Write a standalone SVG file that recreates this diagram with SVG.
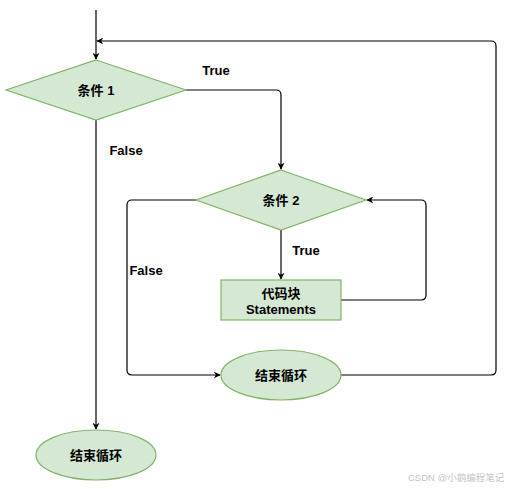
<svg xmlns="http://www.w3.org/2000/svg" width="508" height="489" viewBox="0 0 508 489">
<defs>
<marker id="arr" viewBox="0 0 10 10" refX="9" refY="5" markerWidth="7" markerHeight="7" orient="auto" markerUnits="userSpaceOnUse">
<path d="M0,0 L10,5 L0,10 L3,5 Z" fill="#000"/>
</marker>
<style>
.n{fill:#d5e8d4;stroke:#82b366;stroke-width:1.2}
.t{font-family:"Liberation Sans","Noto Sans CJK SC",sans-serif;font-size:13px;font-weight:bold;fill:#000;text-anchor:middle;dominant-baseline:central}
.c{fill:none;stroke:#000;stroke-width:1.2}
.w{font-family:"Liberation Sans","Noto Sans CJK SC",sans-serif;font-size:9.5px;fill:#c4c4c4}
</style>
</defs>
<rect width="508" height="489" fill="#fff"/>
<g id="connectors">
<path class="c" d="M96,10 V59" marker-end="url(#arr)"/>
<path class="c" d="M186,90 H276 Q281,90 281,95 V169" marker-end="url(#arr)"/>
<path class="c" d="M96,120 V429" marker-end="url(#arr)"/>
<path class="c" d="M281,230 V279" marker-end="url(#arr)"/>
<path class="c" d="M341,300 H421 Q426,300 426,295 V205 Q426,200 421,200 H367" marker-end="url(#arr)"/>
<path class="c" d="M196,200 H132 Q127,200 127,205 V370 Q127,375 132,375 H220" marker-end="url(#arr)"/>
<path class="c" d="M341,375 H491 Q496,375 496,370 V46 Q496,41 491,41 H97" marker-end="url(#arr)"/>
<text class="t" x="216" y="70">True</text>
<text class="t" x="126" y="150">False</text>
<text class="t" x="306" y="250">True</text>
<text class="t" x="146" y="270">False</text>
</g>
<g id="cond1">
<polygon class="n" points="96,60 186,90 96,120 6,90"/>
<text class="t" x="96" y="90">条件 1</text>
</g>
<g id="cond2">
<polygon class="n" points="281,170 366,200 281,230 196,200"/>
<text class="t" x="281" y="200">条件 2</text>
</g>
<g id="block">
<rect class="n" x="221" y="280" width="120" height="40"/>
<text class="t" x="281" y="293">代码块</text>
<text class="t" x="281" y="309">Statements</text>
</g>
<g id="end2">
<ellipse class="n" cx="281" cy="375" rx="60" ry="25"/>
<text class="t" x="281" y="375">结束循环</text>
</g>
<g id="end1">
<ellipse class="n" cx="96" cy="455" rx="60" ry="25"/>
<text class="t" x="96" y="455">结束循环</text>
</g>
<text class="w" x="408" y="481">CSDN @小鹅编程笔记</text>
</svg>
